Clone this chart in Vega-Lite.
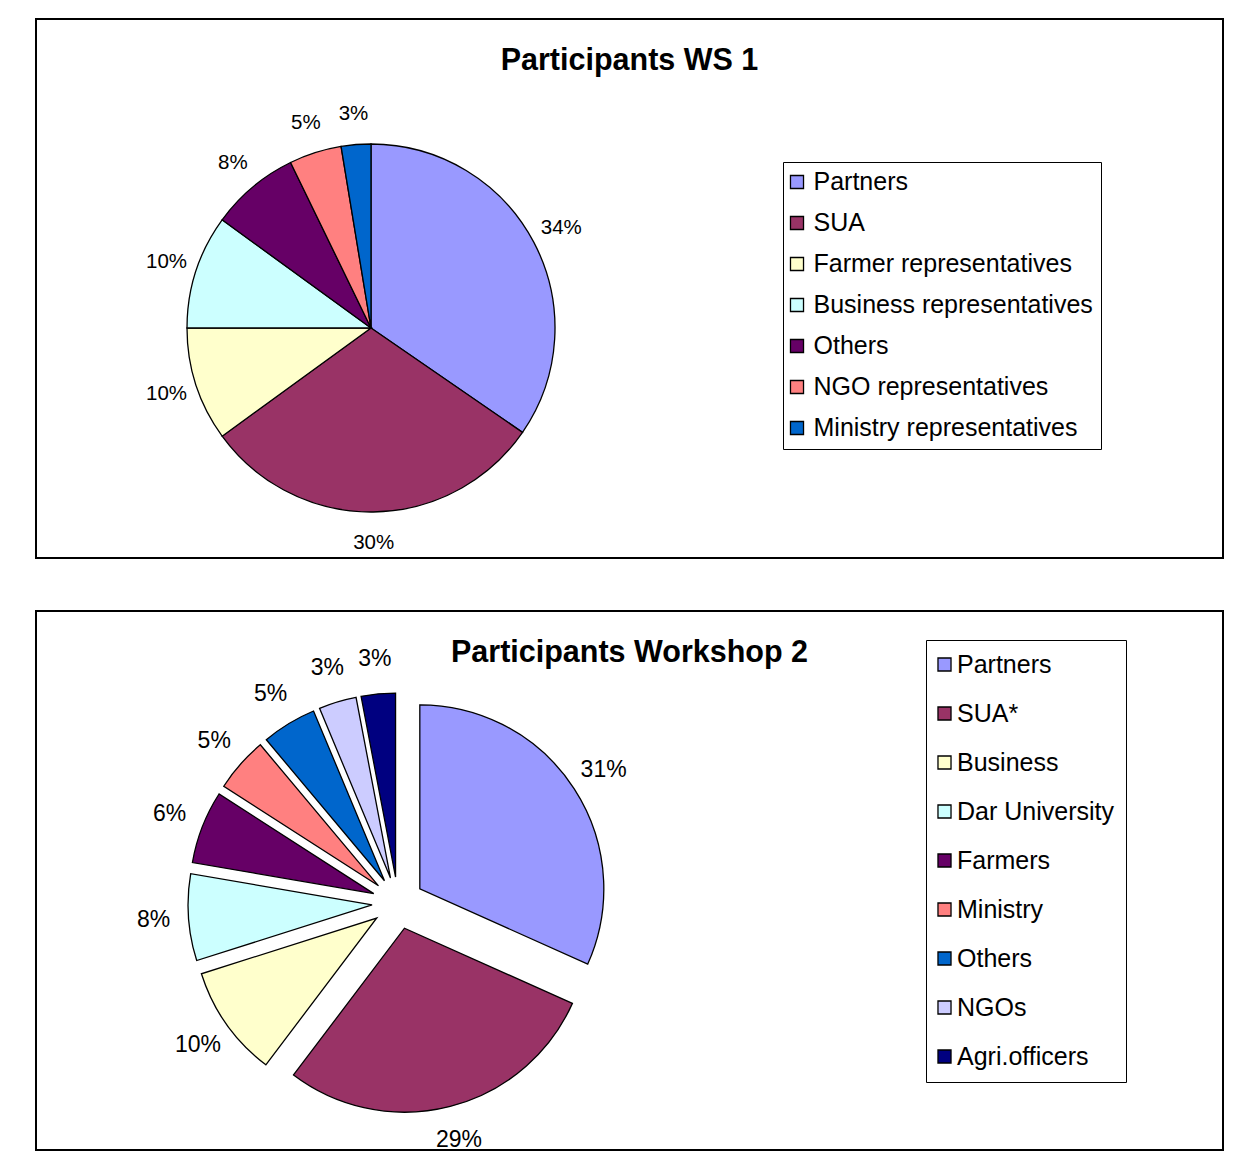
{
  "$schema": "https://vega.github.io/schema/vega-lite/v6.json",
  "background": "white",
  "padding": {"left": 35, "top": 18, "right": 10, "bottom": 5},
  "spacing": 51,
  "config": {
    "view": {"stroke": "black", "strokeWidth": 2},
    "style": {"view": {"stroke": "black", "strokeWidth": 2}},
    "font": "Liberation Sans",
    "title": {"font": "Liberation Sans", "fontSize": 30.5, "fontWeight": "bold", "color": "black", "anchor": "middle", "frame": "group", "baseline": "alphabetic", "offset": -57},
    "legend": {"title": null, "orient": "none", "symbolType": "square", "symbolSize": 170, "symbolStrokeColor": "black", "symbolStrokeWidth": 1.3, "symbolOffset": -6, "labelFont": "Liberation Sans", "labelFontSize": 25, "labelColor": "black", "labelOffset": 4, "labelLimit": 500, "strokeColor": "black", "fillColor": "white"}
  },
  "resolve": {"scale": {"color": "independent"}, "legend": {"color": "independent"}},
  "vconcat": [
    {
      "width": 1187,
      "height": 539,
      "view": {"stroke": "black", "strokeWidth": 2},
      "title": "Participants WS 1",
      "data": {"values": [
        {"group": "Partners", "share": 0.346, "label": "34%", "rank": 1},
        {"group": "SUA", "share": 0.304, "label": "30%", "rank": 2},
        {"group": "Farmer representatives", "share": 0.100, "label": "10%", "rank": 3},
        {"group": "Business representatives", "share": 0.100, "label": "10%", "rank": 4},
        {"group": "Others", "share": 0.078, "label": "8%", "rank": 5},
        {"group": "NGO representatives", "share": 0.046, "label": "5%", "rank": 6},
        {"group": "Ministry representatives", "share": 0.026, "label": "3%", "rank": 7}
      ]},
      "layer": [
        {
          "mark": {"type": "arc", "x": 335, "y": 309, "outerRadius": 184, "stroke": "black", "strokeWidth": 1.3},
          "encoding": {
            "theta": {"field": "share", "type": "quantitative", "stack": true},
            "order": {"field": "rank", "type": "quantitative"},
            "color": {
              "field": "group", "type": "nominal",
              "scale": {
                "domain": ["Partners", "SUA", "Farmer representatives", "Business representatives", "Others", "NGO representatives", "Ministry representatives"],
                "range": ["#9999FF", "#993366", "#FFFFCC", "#CCFFFF", "#660066", "#FF8080", "#0066CC"]
              },
              "legend": {"legendX": 747, "legendY": 143, "padding": 7.5, "rowPadding": 15}
            }
          }
        },
        {
          "mark": {"type": "text", "x": 335, "y": 309, "radius": 215, "fontSize": 20.5, "font": "Liberation Sans", "fill": "black"},
          "encoding": {
            "theta": {"field": "share", "type": "quantitative", "stack": true},
            "order": {"field": "rank", "type": "quantitative"},
            "detail": {"field": "group", "type": "nominal"},
            "text": {"field": "label", "type": "nominal"}
          }
        }
      ]
    },
    {
      "width": 1187,
      "height": 539,
      "view": {"stroke": "black", "strokeWidth": 2},
      "title": "Participants Workshop 2",
      "data": {"values": [
        {"group": "Partners", "share": 0.317, "label": "31%", "rank": 1},
        {"group": "SUA*", "share": 0.286, "label": "29%", "rank": 2},
        {"group": "Business", "share": 0.098, "label": "10%", "rank": 3},
        {"group": "Dar University", "share": 0.076, "label": "8%", "rank": 4},
        {"group": "Farmers", "share": 0.064, "label": "6%", "rank": 5},
        {"group": "Ministry", "share": 0.048, "label": "5%", "rank": 6},
        {"group": "Others", "share": 0.048, "label": "5%", "rank": 7},
        {"group": "NGOs", "share": 0.033, "label": "3%", "rank": 8},
        {"group": "Agri.officers", "share": 0.030, "label": "3%", "rank": 9}
      ]},
      "layer": [
        {
          "mark": {
            "type": "arc",
            "x": {"expr": "362 + 26*sin(PI*(datum.share_start + datum.share_end))"},
            "y": {"expr": "292 - 26*cos(PI*(datum.share_start + datum.share_end))"},
            "outerRadius": 184, "stroke": "black", "strokeWidth": 1.3
          },
          "encoding": {
            "theta": {"field": "share", "type": "quantitative", "stack": true},
            "order": {"field": "rank", "type": "quantitative"},
            "color": {
              "field": "group", "type": "nominal",
              "scale": {
                "domain": ["Partners", "SUA*", "Business", "Dar University", "Farmers", "Ministry", "Others", "NGOs", "Agri.officers"],
                "range": ["#9999FF", "#993366", "#FFFFCC", "#CCFFFF", "#660066", "#FF8080", "#0066CC", "#CCCCFF", "#000080"]
              },
              "legend": {"legendX": 890, "legendY": 29, "padding": 12, "rowPadding": 23, "labelOffset": 0}
            }
          }
        },
        {
          "mark": {"type": "text", "x": 362, "y": 292, "radius": 245, "fontSize": 23, "font": "Liberation Sans", "fill": "black"},
          "encoding": {
            "theta": {"field": "share", "type": "quantitative", "stack": true},
            "order": {"field": "rank", "type": "quantitative"},
            "detail": {"field": "group", "type": "nominal"},
            "text": {"field": "label", "type": "nominal"}
          }
        }
      ]
    }
  ]
}
